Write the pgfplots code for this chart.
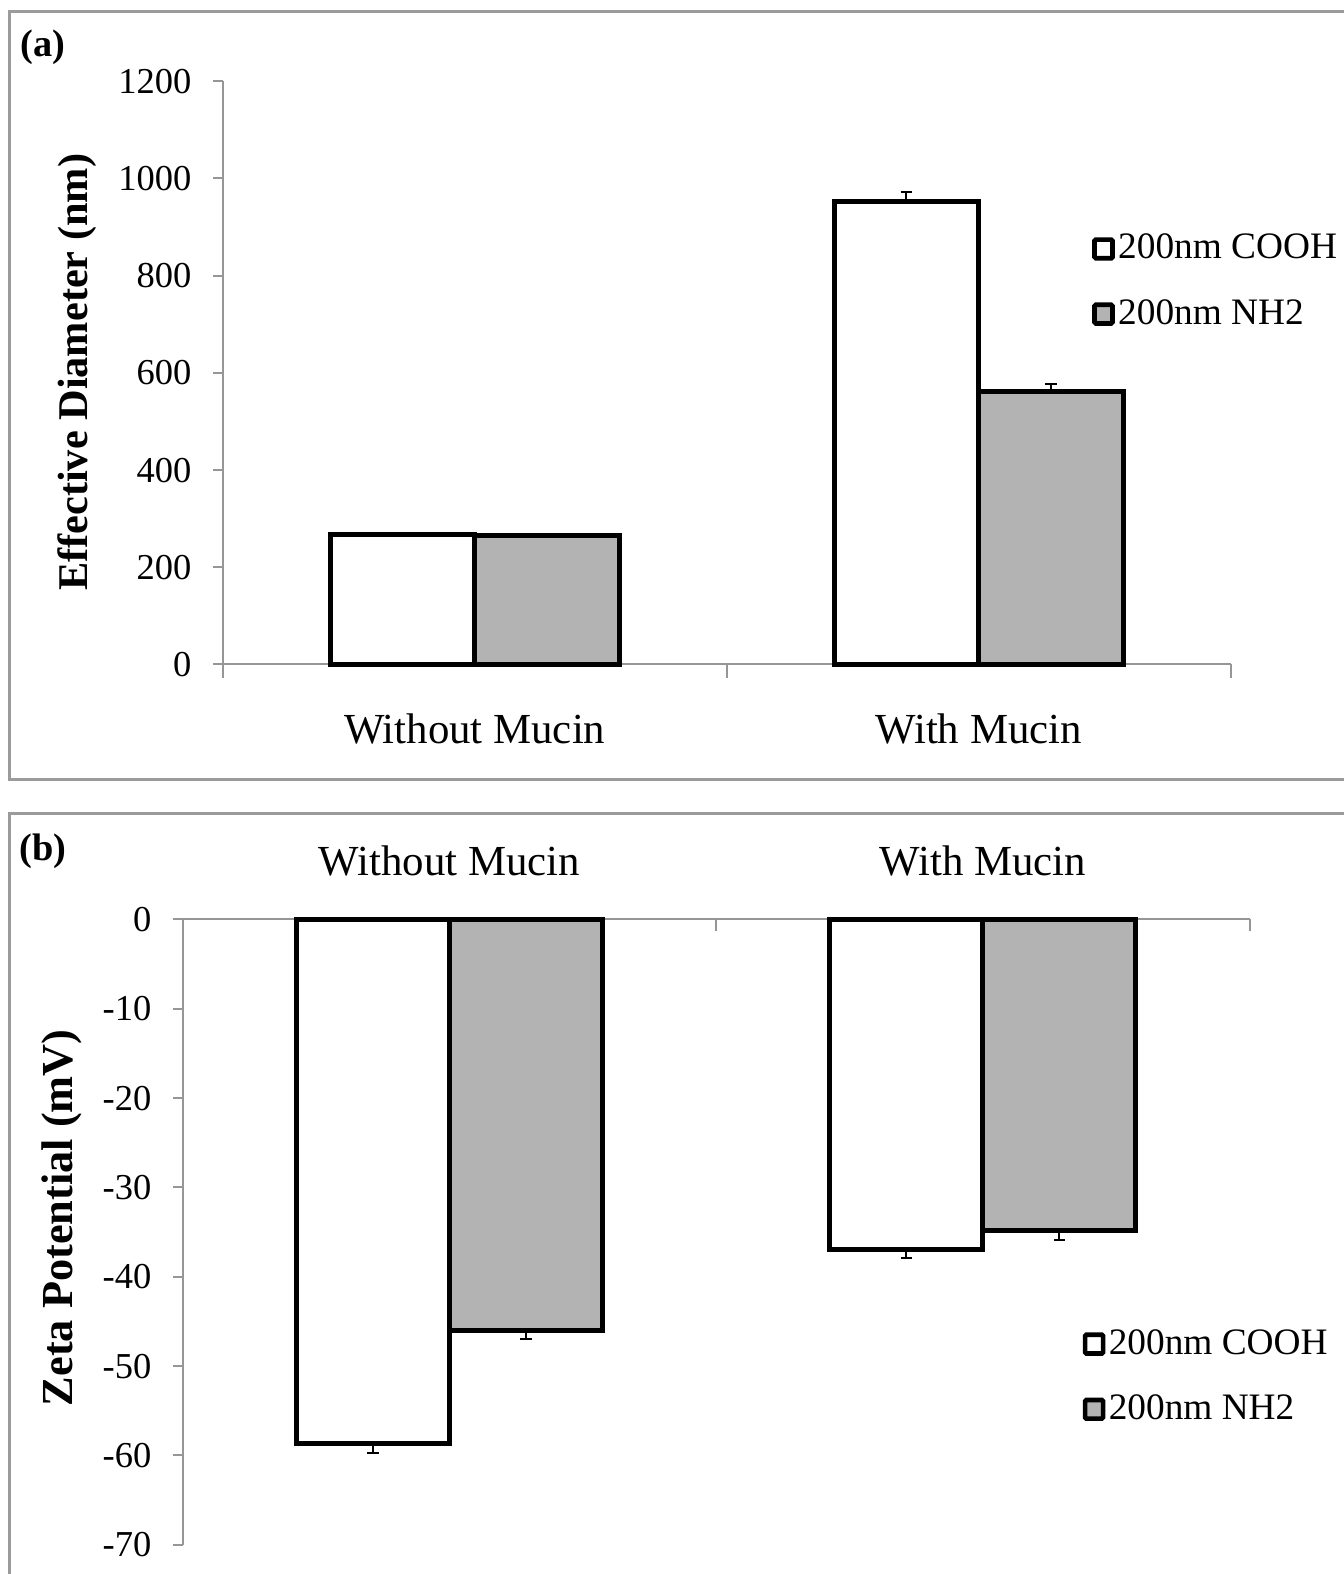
\documentclass[border=0pt]{standalone}
\usepackage{fontspec}
\setmainfont{Liberation Serif}
\usepackage{pgfplots}
\usepackage{pgfplotstable}
\pgfplotsset{compat=1.18}
\definecolor{framegray}{RGB}{155,155,155}
\definecolor{axgray}{RGB}{150,150,150}
\definecolor{bargray}{RGB}{179,179,179}

\pgfplotstableread{
x cooh cooherr nh nherr
0.5 268 1 266 1
1.5 952 20.5 562 14.5
}\diamtab
\pgfplotstableread{
x cooh cooherr nh nherr
0.5 -58.7 1.0 -46.0 1.0
1.5 -36.9 1.0 -34.8 1.1
}\zetatab

\pgfplotsset{
  common/.style={
    scale only axis,
    xmin=0, xmax=2,
    ybar=0pt, bar width=0.287,
    axis line style={axgray, line width=0.6pt},
    tick style={axgray, line width=0.6pt},
    tick align=outside,
    major tick length=3pt,
    /pgf/number format/assume math mode=true,
    /pgf/number format/1000 sep={},
    yticklabel style={font=\fontsize{10.95}{13}\selectfont, anchor=east, inner sep=0pt, xshift=-6.2pt},
    xtick={0.5,1.5},
    xticklabels={Without Mucin, With Mucin},
    major x tick style={draw=none},
    legend style={draw=none, fill=none, font=\fontsize{11.2}{13}\selectfont,
      inner sep=0pt, row sep=8.6pt, cells={anchor=west}, nodes={inner sep=1pt}},
    legend cell align=left,
    clip=false,
  },
  barcooh/.style={fill=white, draw=black, line width=1.5pt,
    legend image code/.code={\draw[line width=1.4pt, rounded corners=0.4pt] (0pt,-2.8pt) rectangle (5.4pt,2.8pt);}},
  barnh/.style={fill=bargray, draw=black, line width=1.5pt,
    legend image code/.code={\draw[line width=1.4pt, rounded corners=0.4pt] (0pt,-2.8pt) rectangle (5.4pt,2.8pt);}},
  errs/.style={error bars/.cd, y dir=#1, y explicit,
    error mark=|,
    error bar style={black, line width=0.6pt, solid},
    error mark options={black, draw=black, line width=0.7pt, mark size=1.7pt, solid}},
}

\begin{document}
\begin{tikzpicture}
\useasboundingbox (0,0) rectangle (403.2pt,472.2pt);
\clip (0,0) rectangle (403.2pt,472.2pt);
\begin{scope}[x=0.3pt,y=-0.3pt,yshift=472.2pt]
\draw[framegray,line width=0.9pt] (9,12) rectangle (1400,779);
\draw[framegray,line width=0.9pt] (9,813) rectangle (1400,1650);
\node[font=\bfseries\fontsize{11.5}{13}\selectfont] at (43,47) {(a)};
\node[font=\bfseries\fontsize{11.5}{13}\selectfont] at (43,851) {(b)};
\end{scope}

% Panel (a)
\begin{axis}[common,
  at={(66.84pt,272.85pt)}, anchor=south west,
  width=302.34pt, height=174.96pt,
  ymin=0, ymax=1200, ytick={0,200,...,1200},
  axis x line*=bottom, axis y line*=left,
  xticklabel style={font=\fontsize{12.85}{15}\selectfont, anchor=center, yshift=-16.4pt},
  every axis y label/.style={at={(rel axis cs:-0.1446,0.501)}, rotate=90, anchor=center,
     font=\bfseries\fontsize{12.7}{15}\selectfont},
  ylabel={Effective Diameter (nm)},
  legend style={at={(0.862,0.745)}, anchor=north west},
]
\addplot[barcooh, errs=plus] table[x=x, y=cooh, y error=cooherr] {\diamtab};
\addlegendentry{200nm COOH}
\addplot[barnh, errs=plus] table[x=x, y=nh, y error=nherr] {\diamtab};
\addlegendentry{200nm NH2}
\draw[axgray, line width=0.6pt] (axis cs:0,0) -- ([yshift=-4pt]axis cs:0,0);
\draw[axgray, line width=0.6pt] (axis cs:1,0) -- ([yshift=-4pt]axis cs:1,0);
\draw[axgray, line width=0.6pt] (axis cs:2,0) -- ([yshift=-4pt]axis cs:2,0);
\end{axis}

% Panel (b)
\begin{axis}[common,
  at={(54.81pt,8.79pt)}, anchor=south west,
  width=320.07pt, height=187.59pt,
  ymin=-70, ymax=0, ytick={-70,-60,...,0},
  axis x line*=top, axis y line*=left,
  xticklabel style={font=\fontsize{12.85}{15}\selectfont, anchor=center, yshift=14.4pt},
  every axis y label/.style={at={(rel axis cs:-0.1129,0.523)}, rotate=90, anchor=center,
     font=\bfseries\fontsize{13.3}{15}\selectfont},
  ylabel={Zeta Potential (mV)},
  legend style={at={(0.843,0.351)}, anchor=north west},
]
\addplot[barcooh, errs=minus] table[x=x, y=cooh, y error=cooherr] {\zetatab};
\addlegendentry{200nm COOH}
\addplot[barnh, errs=minus] table[x=x, y=nh, y error=nherr] {\zetatab};
\addlegendentry{200nm NH2}
\draw[axgray, line width=0.6pt] (axis cs:0,0) -- ([yshift=-3.6pt]axis cs:0,0);
\draw[axgray, line width=0.6pt] (axis cs:1,0) -- ([yshift=-3.6pt]axis cs:1,0);
\draw[axgray, line width=0.6pt] (axis cs:2,0) -- ([yshift=-3.6pt]axis cs:2,0);
\end{axis}
\end{tikzpicture}
\end{document}
